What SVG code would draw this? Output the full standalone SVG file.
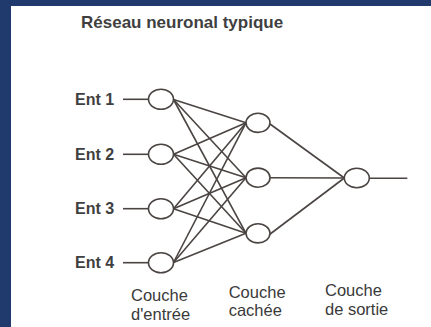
<svg xmlns="http://www.w3.org/2000/svg" width="431" height="327" viewBox="0 0 431 327">
<style>
.bold{font-family:"Liberation Sans",Arial,sans-serif;font-weight:bold;fill:#3f3f3f}
.lbl{font-family:"Liberation Sans",Arial,sans-serif;font-size:16.5px;fill:#3a3a3a}
.node ellipse{fill:#ffffff;stroke:#4a4442;stroke-width:1.6}
.edge line{stroke:#4a4442;stroke-width:1.6;fill:none}
</style>
<rect x="0" y="0" width="431" height="327" fill="#213a6d"/>
<rect x="11" y="6" width="420" height="321" fill="#ffffff"/>
<text class="bold" x="81" y="28.3" font-size="17">Réseau neuronal typique</text>
<g id="connectors" class="edge">
<line x1="123" y1="99.3" x2="148.5" y2="99.3"/>
<line x1="123" y1="154.3" x2="148.5" y2="154.3"/>
<line x1="123" y1="208.7" x2="148.5" y2="208.7"/>
<line x1="123" y1="262.7" x2="148.5" y2="262.7"/>
<line x1="173.5" y1="99.5" x2="246" y2="122.8"/>
<line x1="173.5" y1="99.5" x2="246" y2="177.7"/>
<line x1="173.5" y1="99.5" x2="246" y2="233.3"/>
<line x1="173.5" y1="154.3" x2="246" y2="122.8"/>
<line x1="173.5" y1="154.3" x2="246" y2="177.7"/>
<line x1="173.5" y1="154.3" x2="246" y2="233.3"/>
<line x1="173.5" y1="208.7" x2="246" y2="122.8"/>
<line x1="173.5" y1="208.7" x2="246" y2="177.7"/>
<line x1="173.5" y1="208.7" x2="246" y2="233.3"/>
<line x1="173.5" y1="262.5" x2="246" y2="122.8"/>
<line x1="173.5" y1="262.5" x2="246" y2="177.7"/>
<line x1="173.5" y1="262.5" x2="246" y2="233.3"/>
<line x1="270" y1="124" x2="344.3" y2="178"/>
<line x1="270" y1="177.7" x2="344.3" y2="178"/>
<line x1="269.5" y1="234.5" x2="344.3" y2="178"/>
<line x1="369.3" y1="178.3" x2="407.3" y2="178.3"/>
</g>
<g id="in1" class="node"><text class="bold" x="75" y="105" font-size="16">Ent 1</text><ellipse cx="161" cy="99.3" rx="12.5" ry="10"/></g>
<g id="in2" class="node"><text class="bold" x="75" y="160" font-size="16">Ent 2</text><ellipse cx="161" cy="154.3" rx="12.5" ry="10"/></g>
<g id="in3" class="node"><text class="bold" x="75" y="214.4" font-size="16">Ent 3</text><ellipse cx="161" cy="208.7" rx="12.5" ry="10"/></g>
<g id="in4" class="node"><text class="bold" x="75" y="268.4" font-size="16">Ent 4</text><ellipse cx="161" cy="262.7" rx="12.5" ry="10"/></g>
<g id="h1" class="node"><ellipse cx="258" cy="122.8" rx="12" ry="9.6"/></g>
<g id="h2" class="node"><ellipse cx="258" cy="177.7" rx="12" ry="9.6"/></g>
<g id="h3" class="node"><ellipse cx="258" cy="233.3" rx="12" ry="9.6"/></g>
<g id="out" class="node"><ellipse cx="356.8" cy="178" rx="12.5" ry="9.8"/></g>
<g id="labels">
<text class="lbl" x="131" y="301">Couche</text>
<text class="lbl" x="131" y="319.5">d'entrée</text>
<text class="lbl" x="228.7" y="297.5">Couche</text>
<text class="lbl" x="228.7" y="316">cachée</text>
<text class="lbl" x="325" y="296">Couche</text>
<text class="lbl" x="325" y="314.5">de sortie</text>
</g>
</svg>
